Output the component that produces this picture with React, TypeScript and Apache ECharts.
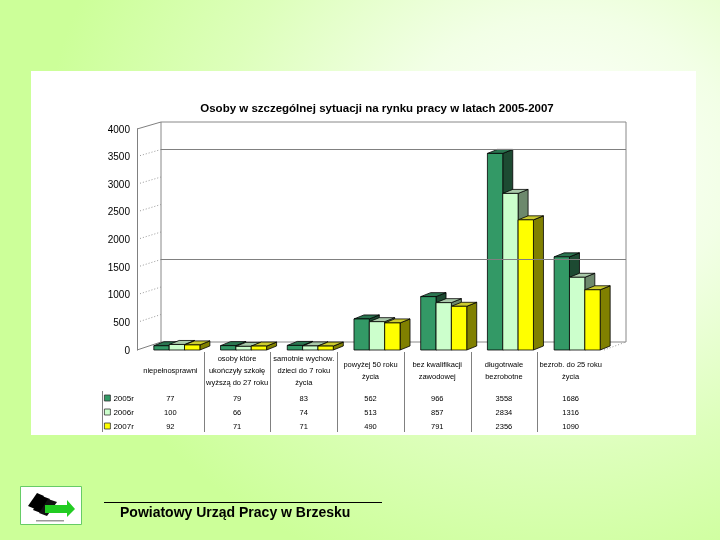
import React, { useEffect, useRef } from "react";
import * as echarts from "echarts";

const titleText = "Osoby w szczególnej sytuacji na rynku pracy w latach 2005-2007";
const categories = [
  "niepełnosprawni",
  "osoby które\nukończyły szkołę\nwyższą do 27 roku",
  "samotnie wychow.\ndzieci do 7 roku\nżycia",
  "powyżej 50 roku\nżycia",
  "bez kwalifikacji\nzawodowej",
  "długotrwale\nbezrobotne",
  "bezrob. do 25 roku\nżycia",
];
const years = ["2005r", "2006r", "2007r"];
const values2005 = [77, 79, 83, 562, 966, 3558, 1686];
const values2006 = [100, 66, 74, 513, 857, 2834, 1316];
const values2007 = [92, 71, 71, 490, 791, 2356, 1090];
const yMin = 0;
const yMax = 4000;
const yInterval = 500;
const backGridValues = [1500, 3500];
const footerText = "Powiatowy Urząd Pracy w Brzesku";

const seriesValues = [values2005, values2006, values2007];
const palettes = [
  { front: "#339966", top: "#2b7550", side: "#1d4a32" },
  { front: "#ccffcc", top: "#a9c9a9", side: "#6d896d" },
  { front: "#ffff00", top: "#cccc2e", side: "#808000" },
];

const FONT = '"Liberation Sans", Arial, sans-serif';

function makeRender(s: number) {
  const pal = palettes[s];
  return (params: any, api: any) => {
    const cat = api.value(0);
    const val = api.value(1);
    const p = api.coord([cat, val]);
    const b = api.coord([cat, 0]);
    const band = api.size([1, 0])[0];
    const w = band * 0.23;
    const x0 = p[0] - 1.5 * w + s * w;
    const x1 = x0 + w;
    const yT = p[1];
    const yB = b[1];
    const dx = 10;
    const dy = -4;
    const st = { stroke: "#000", lineWidth: 0.8 };
    return {
      type: "group",
      children: [
        {
          type: "polygon",
          shape: { points: [[x1, yB], [x1 + dx, yB + dy], [x1 + dx, yT + dy], [x1, yT]] },
          style: { fill: pal.side, ...st },
        },
        {
          type: "polygon",
          shape: { points: [[x0, yT], [x0 + dx, yT + dy], [x1 + dx, yT + dy], [x1, yT]] },
          style: { fill: pal.top, ...st },
        },
        {
          type: "rect",
          shape: { x: x0, y: yT, width: w, height: yB - yT },
          style: { fill: pal.front, ...st },
        },
      ],
    };
  };
}

export default function App() {
  const ref = useRef<HTMLDivElement>(null);
  useEffect(() => {
    if (!ref.current) return;
    const chart = echarts.init(ref.current, null, { renderer: "svg", width: 720, height: 540 });
    const backGrid = { left: 161, top: 122, width: 465, height: 220 };
    const frontGrid = { left: 137, top: 129, width: 467, height: 221 };
    const barGrid = { left: 143.5, top: 129, width: 467, height: 221 };
    const option: any = {
      animation: false,
      backgroundColor: "transparent",
      textStyle: { fontFamily: FONT },
      title: {
        text: titleText,
        left: 372,
        top: 97,
        textAlign: "center",
        textStyle: { fontSize: 11.5, fontWeight: "bold", color: "#000", fontFamily: FONT },
      },
      legend: {
        data: years,
        orient: "vertical",
        left: 104,
        top: 394,
        padding: 0,
        itemWidth: 6,
        itemHeight: 6,
        itemGap: 6,
        icon: "rect",
        itemStyle: { borderColor: "#333", borderWidth: 0.8 },
        textStyle: { fontSize: 8, color: "#000", fontFamily: FONT, padding: [0, 0, 0, -2] },
      },
      grid: [
        { ...backGrid, show: true, borderColor: "#888", borderWidth: 1, backgroundColor: "transparent" },
        { ...frontGrid, show: false },
        { ...barGrid, show: false },
      ],
      xAxis: [
        { gridIndex: 0, type: "category", data: categories, show: false },
        {
          gridIndex: 1,
          type: "category",
          data: categories,
          position: "bottom",
          axisLine: { show: false },
          axisTick: { show: false },
          axisLabel: {
            interval: 0,
            margin: 20,
            verticalAlign: "middle",
            lineHeight: 12,
            fontSize: 7.5,
            color: "#000",
            fontFamily: FONT,
          },
        },
        {
          gridIndex: 1,
          type: "category",
          data: categories,
          position: "bottom",
          axisLine: { show: false },
          axisTick: { show: false },
          axisLabel: {
            interval: 0,
            margin: 41,
            lineHeight: 14,
            fontSize: 7.5,
            color: "#000",
            fontFamily: FONT,
            formatter: (_v: string, i: number) =>
              `${values2005[i]}\n${values2006[i]}\n${values2007[i]}`,
          },
        },
        { gridIndex: 2, type: "category", data: categories, show: false },
      ],
      yAxis: [
        { gridIndex: 0, type: "value", min: yMin, max: yMax, interval: yInterval, show: false },
        {
          gridIndex: 1,
          type: "value",
          min: yMin,
          max: yMax,
          interval: yInterval,
          axisLine: { show: true, lineStyle: { color: "#808080", width: 1 } },
          axisTick: { show: false },
          splitLine: { show: false },
          axisLabel: {
            margin: 7,
            fontSize: 10,
            color: "#000",
            fontFamily: FONT,
            formatter: (v: number) => String(v),
          },
        },
        { gridIndex: 2, type: "value", min: yMin, max: yMax, show: false },
      ],
      series: [
        {
          type: "line",
          xAxisIndex: 0,
          yAxisIndex: 0,
          data: [],
          silent: true,
          markLine: {
            silent: true,
            symbol: "none",
            label: { show: false },
            lineStyle: { color: "#808080", type: "solid", width: 1 },
            data: backGridValues.map((v) => ({ yAxis: v })),
          },
        },
        ...years.map((y, s) => ({
          type: "custom",
          name: y,
          xAxisIndex: 3,
          yAxisIndex: 2,
          itemStyle: { color: palettes[s].front },
          encode: { x: 0, y: 1 },
          data: seriesValues[s].map((v, i) => [i, v]),
          renderItem: makeRender(s),
        })),
      ],
    };
    chart.setOption(option);

    // computed decorations from axes
    const g: any[] = [];
    const xs = categories.map((_c, i) => chart.convertToPixel({ xAxisIndex: 1 }, i) as number);
    const band = xs[1] - xs[0];
    for (let i = 1; i < categories.length; i++) {
      const x = Math.round(xs[i] - band / 2) + 0.5;
      g.push({ type: "line", shape: { x1: x, y1: 352, x2: x, y2: 432 }, style: { stroke: "#808080", lineWidth: 1 } });
    }
    g.push({ type: "line", shape: { x1: 102.5, y1: 391, x2: 102.5, y2: 432 }, style: { stroke: "#808080", lineWidth: 1 } });
    const frontX = frontGrid.left;
    const backX = backGrid.left;
    for (let v = yMin; v <= yMax; v += yInterval) {
      const yf = chart.convertToPixel({ yAxisIndex: 1 }, v) as number;
      const yb = chart.convertToPixel({ yAxisIndex: 0 }, v) as number;
      const edge = v === yMin || v === yMax;
      g.push({
        type: "line",
        shape: { x1: frontX + (edge ? 0 : 3), y1: yf - (edge ? 0 : 1), x2: backX, y2: yb },
        style: { stroke: edge ? "#808080" : "#999", lineWidth: 1, lineDash: edge ? null : [1, 2] },
      });
    }
    // right floor dotted edge
    const xe = backGrid.left + backGrid.width;
    const yf0 = chart.convertToPixel({ yAxisIndex: 1 }, 0) as number;
    const yb0 = chart.convertToPixel({ yAxisIndex: 0 }, 0) as number;
    g.push({
      type: "line",
      shape: { x1: frontGrid.left + frontGrid.width, y1: yf0, x2: xe, y2: yb0 },
      style: { stroke: "#999", lineWidth: 1, lineDash: [1, 2] },
    });
    // footer
    g.push({ type: "line", shape: { x1: 104, y1: 502.5, x2: 382, y2: 502.5 }, style: { stroke: "#000", lineWidth: 1 } });
    g.push({
      type: "text",
      x: 120,
      y: 512,
      style: { text: footerText, fill: "#000", font: `bold 14px ${FONT}`, textVerticalAlign: "middle" },
    });
    // logo
    g.push({ type: "rect", shape: { x: 20.5, y: 486.5, width: 61, height: 38 }, style: { fill: "#fff", stroke: "#66cc66", lineWidth: 1 } });
    g.push({ type: "polygon", shape: { points: [[28, 506], [37, 493], [44, 496], [35, 509]] }, style: { fill: "#000" } });
    g.push({ type: "polygon", shape: { points: [[33, 510], [42, 496], [50, 499], [41, 513]] }, style: { fill: "#000" } });
    g.push({ type: "polygon", shape: { points: [[39, 513], [48, 499], [57, 502], [47, 516]] }, style: { fill: "#111" } });
    g.push({
      type: "polygon",
      shape: { points: [[45, 505], [67, 505], [67, 500], [75, 509], [67, 517], [67, 513], [45, 513]] },
      style: { fill: "#22cc22" },
    });
    g.push({ type: "rect", shape: { x: 36, y: 520, width: 28, height: 1.5 }, style: { fill: "#999" } });
    chart.setOption({ graphic: g });

    return () => chart.dispose();
  }, []);

  return (
    <div
      style={{
        position: "fixed",
        left: 0,
        top: 0,
        width: 720,
        height: 540,
        background:
          "radial-gradient(ellipse 80% 90% at 78% 30%, #ffffff 0%, #f2ffe6 30%, #ddffbb 60%, #ccff99 90%)",
      }}
    >
      <div
        style={{ position: "absolute", left: 31, top: 71, width: 665, height: 364, background: "#ffffff" }}
      />
      <div ref={ref} style={{ position: "absolute", left: 0, top: 0, width: 720, height: 540 }} />
    </div>
  );
}
